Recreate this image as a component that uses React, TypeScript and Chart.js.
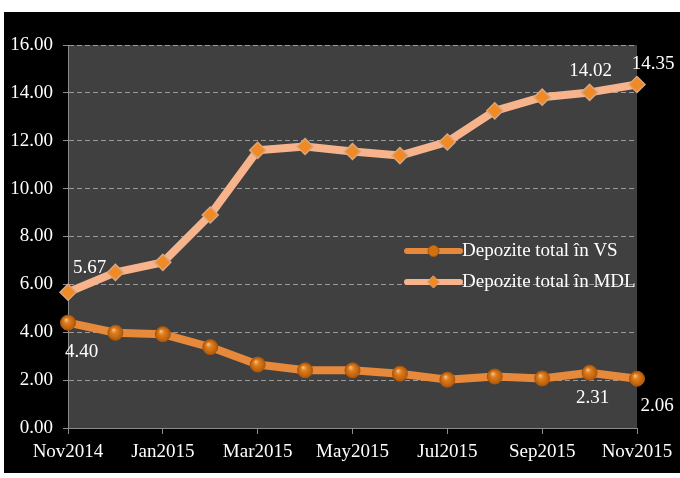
import React, { useEffect, useRef } from "react";
import { Chart, registerables } from "chart.js";
Chart.register(...registerables);

const months = ["Nov2014", "Dec2014", "Jan2015", "Feb2015", "Mar2015", "Apr2015", "May2015", "Jun2015", "Jul2015", "Aug2015", "Sep2015", "Oct2015", "Nov2015"];
const seriesVS = [4.40, 3.98, 3.92, 3.38, 2.65, 2.41, 2.41, 2.27, 2.02, 2.15, 2.07, 2.31, 2.06];
const seriesMDL = [5.67, 6.50, 6.92, 8.90, 11.60, 11.76, 11.55, 11.38, 11.95, 13.25, 13.82, 14.02, 14.35];
const seriesNames = ["Depozite total în VS", "Depozite total în MDL"];
const labeledVS = [0, 11, 12];
const labeledMDL = [0, 11, 12];
const yMin = 0;
const yMax = 16;
const yStep = 2;

const FONT = "'Liberation Serif', 'Times New Roman', serif";
const FS = 19;

// label offsets (style): [dx, dy, align]
const labelStyleVS: Record<number, [number, number, CanvasTextAlign]> = {
  0: [-3, 29, "left"],
  11: [3, 25, "center"],
  12: [20, 27, "center"],
};
const labelStyleMDL: Record<number, [number, number, CanvasTextAlign]> = {
  0: [5, -24, "left"],
  11: [1, -21, "center"],
  12: [16, -20, "center"],
};

const plotBg = {
  id: "plotBg",
  beforeDraw(chart: any) {
    const { ctx, chartArea } = chart;
    ctx.save();
    ctx.fillStyle = "#404040";
    ctx.fillRect(chartArea.left, chartArea.top, chartArea.right - chartArea.left, chartArea.bottom - chartArea.top);
    ctx.restore();
  },
};

const sphereShine = {
  id: "sphereShine",
  afterDatasetsDraw(chart: any) {
    const { ctx } = chart;
    const meta = chart.getDatasetMeta(0);
    ctx.save();
    meta.data.forEach((p: any) => {
      const r = 7;
      const g = ctx.createRadialGradient(p.x - 2, p.y - 3, 0.5, p.x, p.y, r);
      g.addColorStop(0, "rgba(255,220,170,0.75)");
      g.addColorStop(0.45, "rgba(240,140,50,0.25)");
      g.addColorStop(1, "rgba(120,50,0,0.35)");
      ctx.fillStyle = g;
      ctx.beginPath();
      ctx.arc(p.x, p.y, r, 0, Math.PI * 2);
      ctx.fill();
    });
    ctx.restore();
  },
};

const valueLabels = {
  id: "valueLabels",
  afterDatasetsDraw(chart: any) {
    const { ctx } = chart;
    ctx.save();
    ctx.font = `${FS}px ${FONT}`;
    ctx.fillStyle = "#ffffff";
    ctx.textBaseline = "middle";
    const draw = (dsIndex: number, idxs: number[], vals: number[], st: Record<number, [number, number, CanvasTextAlign]>) => {
      const meta = chart.getDatasetMeta(dsIndex);
      idxs.forEach((i) => {
        const p = meta.data[i];
        const [dx, dy, al] = st[i];
        ctx.textAlign = al;
        ctx.fillText(vals[i].toFixed(2), p.x + dx, p.y + dy);
      });
    };
    draw(0, labeledVS, seriesVS, labelStyleVS);
    draw(1, labeledMDL, seriesMDL, labelStyleMDL);
    ctx.restore();
  },
};

const innerLegend = {
  id: "innerLegend",
  afterDraw(chart: any) {
    const { ctx } = chart;
    ctx.save();
    const x0 = 403;
    const x1 = 456;
    const ys = [239, 270];
    chart.data.datasets.forEach((ds: any, i: number) => {
      const y = ys[i];
      ctx.strokeStyle = ds.borderColor;
      ctx.lineWidth = 6;
      ctx.lineCap = "round";
      ctx.beginPath();
      ctx.moveTo(x0, y);
      ctx.lineTo(x1, y);
      ctx.stroke();
      const cx = (x0 + x1) / 2;
      ctx.fillStyle = ds.pointBackgroundColor;
      ctx.strokeStyle = ds.pointBorderColor;
      ctx.lineWidth = 1;
      ctx.beginPath();
      if (ds.pointStyle === "rectRot") {
        const r = 6;
        ctx.moveTo(cx, y - r);
        ctx.lineTo(cx + r, y);
        ctx.lineTo(cx, y + r);
        ctx.lineTo(cx - r, y);
        ctx.closePath();
      } else {
        ctx.arc(cx, y, 5.5, 0, Math.PI * 2);
      }
      ctx.fill();
      ctx.stroke();
      ctx.font = `${FS}px ${FONT}`;
      ctx.fillStyle = "#ffffff";
      ctx.textAlign = "left";
      ctx.textBaseline = "middle";
      ctx.fillText(ds.label, x1 + 2, y);
    });
    ctx.restore();
  },
};

export default function App() {
  const ref = useRef<HTMLCanvasElement | null>(null);
  useEffect(() => {
    if (!ref.current) return;
    const chart = new Chart(ref.current, {
      type: "line",
      data: {
        labels: months,
        datasets: [
          {
            label: seriesNames[0],
            data: seriesVS,
            borderColor: "#E6893A",
            borderWidth: 8,
            borderJoinStyle: "round",
            tension: 0,
            pointStyle: "circle",
            pointRadius: 7.5,
            pointBackgroundColor: "#D2700F",
            pointBorderColor: "#A85510",
            pointBorderWidth: 1,
          },
          {
            label: seriesNames[1],
            data: seriesMDL,
            borderColor: "#F7B48C",
            borderWidth: 8,
            borderJoinStyle: "round",
            tension: 0,
            pointStyle: "rectRot",
            pointRadius: 8,
            pointBackgroundColor: "#F08A24",
            pointBorderColor: "#D9A580",
            pointBorderWidth: 1.5,
          },
        ],
      },
      options: {
        animation: false,
        responsive: false,
        layout: { padding: { top: 33, right: 43, left: 0, bottom: 0 } },
        plugins: { legend: { display: false }, tooltip: { enabled: false } },
        scales: {
          x: {
            type: "category",
            offset: false,
            grid: {
              drawOnChartArea: false,
              tickLength: 6,
              tickColor: (c: any) => (c.index % 2 === 0 ? "#8c8c8c" : "rgba(0,0,0,0)"),
            },
            border: { color: "#8c8c8c", width: 1 },
            ticks: {
              autoSkip: false,
              maxRotation: 0,
              color: "#ffffff",
              font: { family: FONT, size: FS },
              padding: 7,
              callback: (_v: any, i: number) => (i % 2 === 0 ? months[i] : ""),
            },
            afterFit: (s: any) => {
              s.height = 45;
            },
          },
          y: {
            min: yMin,
            max: yMax,
            ticks: {
              stepSize: yStep,
              color: "#ffffff",
              font: { family: FONT, size: FS },
              padding: 10,
              callback: (v: any) => Number(v).toFixed(2),
            },
            grid: { color: "#9a9a9a", tickLength: 5, tickColor: "#8c8c8c", lineWidth: 1 },
            border: { color: "#8c8c8c", dash: [5, 3] },
            afterFit: (s: any) => {
              s.width = 64;
            },
          },
        },
      },
      plugins: [plotBg, sphereShine, valueLabels, innerLegend],
    } as any);
    return () => chart.destroy();
  }, []);
  return (
    <div style={{ position: "absolute", left: 4, top: 12, width: 676, height: 461, background: "#000" }}>
      <canvas ref={ref} width={676} height={461} style={{ width: 676, height: 461, display: "block" }} />
    </div>
  );
}
